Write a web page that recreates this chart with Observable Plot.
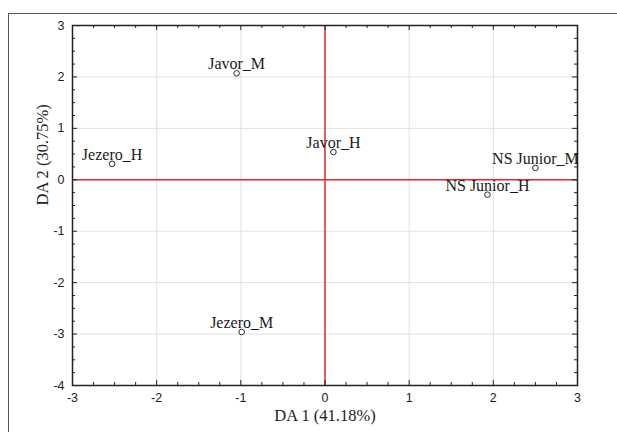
<!DOCTYPE html>
<html>
<head>
<meta charset="utf-8">
<script src="https://cdn.jsdelivr.net/npm/d3@7"></script>
<script src="https://cdn.jsdelivr.net/npm/@observablehq/plot@0.6"></script>
<style>
  html, body { margin: 0; padding: 0; background: #fff; overflow: hidden; }
  #wrap { position: relative; width: 617px; height: 432px; }
  #outer { position: absolute; left: 8px; top: 13px; width: 700px; height: 500px;
           border-left: 1.5px solid #555; border-top: 1.5px solid #555; pointer-events: none; }
  #chart { position: absolute; left: 0; top: 0; }
</style>
</head>
<body>
<div id="wrap"><div id="chart"></div><div id="outer"></div></div>
<script>
// Data
const labels = ["Javor_M", "Javor_H", "Jezero_H", "Jezero_M", "NS Junior_M", "NS Junior_H"];
const da1 = [-1.05, 0.10, -2.53, -0.99, 2.50, 1.93];
const da2 = [2.07, 0.54, 0.31, -2.96, 0.23, -0.29];

const xTicks = [-3, -2, -1, 0, 1, 2, 3];
const yTicks = [-4, -3, -2, -1, 0, 1, 2, 3];
const xLabel = "DA 1 (41.18%)";
const yLabel = "DA 2 (30.75%)";

const points = labels.map((name, i) => ({name, x: da1[i], y: da2[i]}));

const W = 617, H = 432;
const mL = 72, mR = 40, mT = 25, mB = 47;
const iw = W - mL - mR, ih = H - mT - mB;
const xMinor = d3.range(-3, 3.001, 0.25).filter(v => Math.abs(v - Math.round(v)) > 1e-6);
const yMinor = d3.range(-4, 3.001, 0.25).filter(v => Math.abs(v - Math.round(v)) > 1e-6);
const majLen = 5, minLen = 3;

const chart = Plot.plot({
  width: W, height: H,
  marginLeft: mL, marginRight: mR, marginTop: mT, marginBottom: mB,
  style: {background: "transparent", fontFamily: "'Liberation Sans', Arial, sans-serif", fontSize: "12.5px", color: "#222"},
  x: {domain: [-3, 3]},
  y: {domain: [-4, 3]},
  marks: [
    Plot.gridX(xTicks, {stroke: "#e0e0e0", strokeOpacity: 1, strokeWidth: 1}),
    Plot.gridY(yTicks, {stroke: "#e0e0e0", strokeOpacity: 1, strokeWidth: 1}),
    Plot.ruleX([0], {stroke: "#d9302c", strokeWidth: 1.5}),
    Plot.ruleY([0], {stroke: "#d9302c", strokeWidth: 1.5}),
    // inward ticks: bottom/top
    Plot.ruleX(xTicks, {insetTop: ih - majLen, stroke: "#222"}),
    Plot.ruleX(xTicks, {insetBottom: ih - majLen, stroke: "#222"}),
    Plot.ruleX(xMinor, {insetTop: ih - minLen, stroke: "#222"}),
    Plot.ruleX(xMinor, {insetBottom: ih - minLen, stroke: "#222"}),
    // inward ticks: left/right
    Plot.ruleY(yTicks, {insetRight: iw - majLen, stroke: "#222"}),
    Plot.ruleY(yTicks, {insetLeft: iw - majLen, stroke: "#222"}),
    Plot.ruleY(yMinor, {insetRight: iw - minLen, stroke: "#222"}),
    Plot.ruleY(yMinor, {insetLeft: iw - minLen, stroke: "#222"}),
    Plot.frame({stroke: "#222", strokeWidth: 1.5}),
    Plot.axisX(xTicks, {anchor: "bottom", tickSize: 0, tickPadding: 8, label: null, tickFormat: d => String(d), fontSize: 12.5}),
    Plot.axisY(yTicks, {anchor: "left", tickSize: 0, tickPadding: 8, label: null, tickFormat: d => String(d), fontSize: 12.5}),
    Plot.text([xLabel], {frameAnchor: "bottom", dy: 35, text: d => d, fontFamily: "'Liberation Serif', 'Times New Roman', serif", fontSize: 16.5, fill: "#222"}),
    Plot.text([yLabel], {frameAnchor: "left", dx: -30, rotate: -90, text: d => d, fontFamily: "'Liberation Serif', 'Times New Roman', serif", fontSize: 16.5, fill: "#222"}),
    Plot.dot(points, {x: "x", y: "y", r: 2.8, stroke: "#2a2a3a", fill: "white", strokeWidth: 1}),
    Plot.text(points, {x: "x", y: "y", text: "name", dy: -9, textAnchor: "middle", fontFamily: "'Liberation Serif', 'Times New Roman', serif", fontSize: 16, fill: "#1a1a1a"})
  ]
});
document.getElementById("chart").appendChild(chart);
</script>
</body>
</html>
